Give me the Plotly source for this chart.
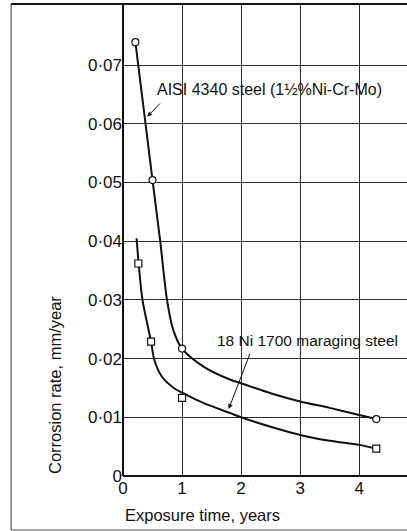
import plotly.graph_objects as go

# Measured corrosion rates (mm/year) against exposure time (years)
aisi_t = [0.21, 0.5, 1.0, 4.29]
aisi_rate = [0.0739, 0.0504, 0.0217, 0.0097]
mar_t = [0.26, 0.475, 1.0, 4.29]
mar_rate = [0.0362, 0.0229, 0.0133, 0.00465]

# Hand-faired trend curves through the measurements
aisi_curve_t = [0.21, 0.5, 0.63, 0.745, 0.85, 1.0, 1.37, 1.82, 2.0, 2.5, 3.0, 3.5, 4.0, 4.29]
aisi_curve_rate = [0.0739, 0.0504, 0.0400, 0.0300, 0.0249, 0.0217, 0.0186, 0.0164,
                   0.0158, 0.0141, 0.0127, 0.0116, 0.0104, 0.0097]
mar_curve_t = [0.23, 0.265, 0.33, 0.475, 0.53, 0.66, 0.86, 1.0, 1.37, 1.82, 2.0, 2.5,
               3.0, 3.5, 4.0, 4.29]
mar_curve_rate = [0.0405, 0.0362, 0.0300, 0.0229, 0.0198, 0.0169, 0.0150, 0.0142,
                  0.0124, 0.0107, 0.0100, 0.0084, 0.0070, 0.0060, 0.0053, 0.00465]

y_ticks = [0, 0.01, 0.02, 0.03, 0.04, 0.05, 0.06, 0.07]
y_tick_text = ["0", "0·01", "0·02", "0·03", "0·04", "0·05", "0·06", "0·07"]
x_ticks = [0, 1, 2, 3, 4]

X_MAX = 4.81
Y_MAX = 0.0804
FONT = "Liberation Sans"
INK = "#111111"
GRID = "#2a2a2a"

fig = go.Figure()
fig.add_trace(go.Scatter(x=aisi_curve_t, y=aisi_curve_rate, mode="lines",
                         line=dict(color=INK, width=2, shape="spline", smoothing=0.8)))
fig.add_trace(go.Scatter(x=mar_curve_t, y=mar_curve_rate, mode="lines",
                         line=dict(color=INK, width=2, shape="spline", smoothing=0.8)))
fig.add_trace(go.Scatter(x=aisi_t, y=aisi_rate, mode="markers",
                         marker=dict(symbol="circle", size=7, color="white",
                                     line=dict(color=INK, width=1.2))))
fig.add_trace(go.Scatter(x=mar_t, y=mar_rate, mode="markers",
                         marker=dict(symbol="square", size=7, color="white",
                                     line=dict(color=INK, width=1.2))))

annotations = [
    dict(x=0.55, y=0.0659, text="AISI 4340 steel (1½%Ni-Cr-Mo)", showarrow=False,
         xanchor="left", yanchor="middle", font=dict(size=16, color=INK, family=FONT)),
    dict(x=0.41, y=0.0612, ax=0.65, ay=0.0637, axref="x", ayref="y", text="",
         showarrow=True, arrowhead=2, arrowsize=1, arrowwidth=1, arrowcolor=INK),
    dict(x=1.55, y=0.0230, text="18 Ni 1700 maraging steel", showarrow=False,
         xanchor="left", yanchor="middle", font=dict(size=15.5, color=INK, family=FONT)),
    dict(x=1.79, y=0.0114, ax=2.16, ay=0.0211, axref="x", ayref="y", text="",
         showarrow=True, arrowhead=2, arrowsize=1, arrowwidth=1, arrowcolor=INK),
    dict(x=-0.239, y=0.193, xref="paper", yref="paper", text="Corrosion rate, mm/year",
         textangle=-90, showarrow=False, xanchor="center", yanchor="middle",
         font=dict(size=16.5, color=INK, family=FONT)),
    dict(x=0.0, y=-0.083, xref="paper", yref="paper", text="Exposure time, years",
         showarrow=False, xanchor="left", yanchor="middle",
         font=dict(size=16.5, color=INK, family=FONT)),
]

# Outer frame around the figure and top edge of the plot
shapes = [
    dict(type="line", xref="paper", yref="paper", x0=-0.394, x1=-0.394, y0=-0.1144, y1=1.0,
         line=dict(color="#333333", width=1)),
    dict(type="line", xref="paper", yref="paper", x0=-0.394, x1=1.0, y0=-0.1144, y1=-0.1144,
         line=dict(color="#555555", width=1)),
    dict(type="line", xref="paper", yref="paper", x0=-0.394, x1=1.0, y0=1.0, y1=1.0,
         line=dict(color=INK, width=2)),
]

fig.update_layout(
    width=407, height=531,
    margin=dict(l=123, r=0, t=4, b=55),
    plot_bgcolor="white",
    showlegend=False,
    annotations=annotations, shapes=shapes,
    xaxis=dict(range=[0, X_MAX], tickvals=x_ticks, ticktext=[str(v) for v in x_ticks],
               showgrid=True, gridcolor=GRID, gridwidth=1,
               zeroline=True, zerolinecolor=INK, zerolinewidth=2,
               tickfont=dict(size=17, family=FONT, color=INK)),
    yaxis=dict(range=[0, Y_MAX], tickvals=y_ticks, ticktext=y_tick_text,
               showgrid=True, gridcolor=GRID, gridwidth=1,
               zeroline=True, zerolinecolor=INK, zerolinewidth=2,
               tickfont=dict(size=17, family=FONT, color=INK)),
)

fig.write_html("out.html")
